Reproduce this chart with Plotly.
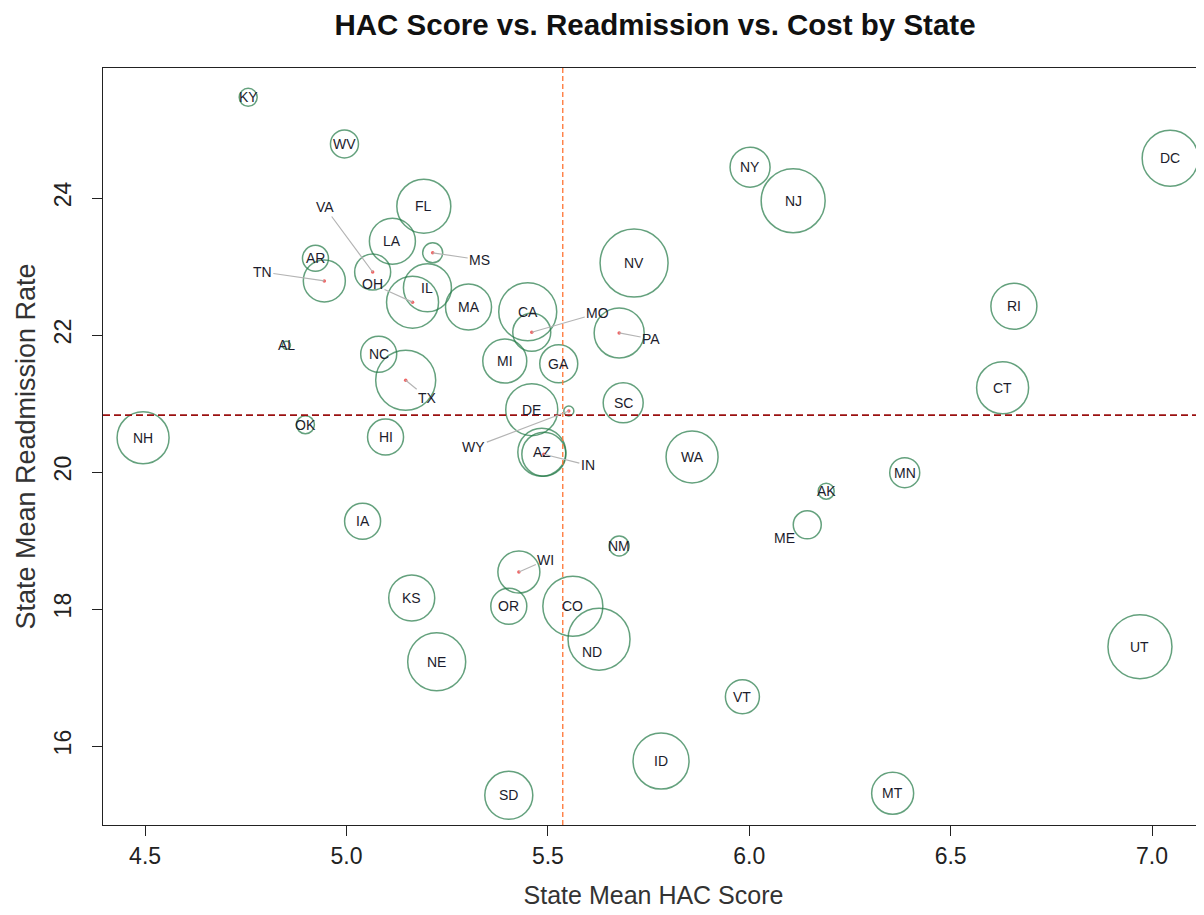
import plotly.graph_objects as go

# state means
states = ["KY", "WV", "FL", "LA", "AR", "TN", "VA", "OH", "IL", "MS",
          "MA", "AL", "NC", "TX", "NH", "OK", "HI", "WY", "IA", "KS",
          "CA", "MO", "MI", "GA", "DE", "AZ", "IN", "SC", "PA", "NV",
          "WA", "NY", "NJ", "DC", "RI", "CT", "MN", "AK", "ME", "VT",
          "MT", "UT", "NM", "WI", "OR", "CO", "ND", "NE", "SD", "ID"]
hac_score = [4.756, 4.995, 5.192, 5.114, 4.923, 4.945, 5.065, 5.164, 5.201, 5.214,
             5.303, 4.851, 5.080, 5.147, 4.495, 4.898, 5.097, 5.552, 5.040, 5.162,
             5.450, 5.460, 5.393, 5.527, 5.460, 5.485, 5.490, 5.687, 5.677, 5.714,
             5.858, 6.002, 6.109, 7.045, 6.657, 6.629, 6.386, 6.191, 6.144, 5.983,
             6.356, 6.970, 5.677, 5.428, 5.403, 5.562, 5.627, 5.224, 5.403, 5.781]
readmission = [25.47, 24.79, 23.88, 23.37, 23.12, 22.79, 22.92, 22.48, 22.69, 23.20,
               22.41, 21.85, 21.72, 21.34, 20.50, 20.69, 20.51, 20.89, 19.28, 18.16,
               22.34, 22.04, 21.62, 21.58, 20.91, 20.29, 20.26, 21.01, 22.03, 23.05,
               20.22, 24.45, 23.96, 24.58, 22.42, 21.23, 19.99, 19.72, 19.23, 16.72,
               15.31, 17.45, 18.92, 18.54, 18.04, 18.04, 17.56, 17.23, 15.28, 15.78]
# relative cost (bubble radius)
cost = [9, 14, 27, 23, 13, 21, 18, 26, 24, 10,
        23, 4, 18, 30, 26, 9, 18, 5, 18, 23,
        29, 19, 22, 19, 26, 24, 22, 20, 25, 34,
        26, 20, 32, 28, 23, 26, 15, 8, 14, 17,
        21, 32, 10, 21, 18, 30, 31, 29, 24, 28]

mean_hac = 5.537
mean_readmission = 20.83

# labels that were pushed away from their bubble (pixel offsets)
moved = {"VA": (-48, -65), "TN": (-62, -9), "OH": (-40, -18), "MS": (47, 7),
         "TX": (22, 18), "WY": (-95, 36), "IN": (44, 11), "MO": (66, -19),
         "PA": (32, 6), "WI": (27, -12)}
nudged = {"ME": (-23, -13), "ND": (-7, -13)}

fig = go.Figure()

fig.add_trace(go.Scatter(
    x=hac_score, y=readmission, mode="markers", cliponaxis=False,
    marker=dict(size=[2 * c for c in cost], sizemode="diameter",
                color="rgba(0,0,0,0)",
                line=dict(color="#237a47", width=1.5)),
    hoverinfo="text", text=states, showlegend=False))

mx = [hac_score[states.index(s)] for s in moved]
my = [readmission[states.index(s)] for s in moved]
fig.add_trace(go.Scatter(x=mx, y=my, mode="markers",
                         marker=dict(size=3.5, color="#f06464"),
                         showlegend=False, hoverinfo="skip"))

lab_font = dict(family="Liberation Sans, Arial", size=14, color="#1c1c2c")
for s, x, y in zip(states, hac_score, readmission):
    if s in moved:
        dx, dy = moved[s]
        fig.add_annotation(x=x, y=y, text=s, showarrow=True, ax=dx, ay=dy,
                           arrowhead=0, arrowwidth=1.2, arrowcolor="#b4b4b4",
                           standoff=0, font=lab_font)
    else:
        dx, dy = nudged.get(s, (0, 0))
        fig.add_annotation(x=x, y=y, text=s, showarrow=False,
                           xshift=dx, yshift=dy, font=lab_font)

fig.add_vline(x=mean_hac, line=dict(color="#ff7433", width=1.3, dash="5px,3px"))
fig.add_hline(y=mean_readmission, line=dict(color="#9a1010", width=1.6, dash="7px,4px"))

fig.update_layout(
    width=1196, height=907,
    margin=dict(l=95, r=0, t=60, b=90),
    plot_bgcolor="white", paper_bgcolor="white",
    font=dict(family="Liberation Sans, Arial", color="#222"),
    title=dict(text="<b>HAC Score vs. Readmission vs. Cost by State</b>",
               xref="container", x=0.541, xanchor="center",
               yref="container", y=0.982, yanchor="middle",
               font=dict(size=29.5, color="#111")),
)
fig.update_xaxes(range=[4.3955, 7.129], tickvals=[4.5, 5.0, 5.5, 6.0, 6.5, 7.0],
                 ticktext=["4.5", "5.0", "5.5", "6.0", "6.5", "7.0"],
                 showgrid=False, zeroline=False, showline=True, mirror=True,
                 linecolor="#222", linewidth=1.2, ticks="outside", ticklen=10,
                 tickcolor="#222", tickfont=dict(size=23, color="#222"),
                 title=dict(text="State Mean HAC Score", font=dict(size=25, color="#333"),
                            standoff=18))
fig.update_yaxes(range=[14.847, 25.898], tickvals=[16, 18, 20, 22, 24],
                 tickangle=-90, ticklabelstandoff=12,
                 showgrid=False, zeroline=False, showline=True, mirror=True,
                 linecolor="#222", linewidth=1.2, ticks="outside", ticklen=10,
                 tickcolor="#222", tickfont=dict(size=23, color="#222"),
                 title=dict(text="State Mean Readmission Rate", font=dict(size=27, color="#333"),
                            standoff=6))

fig.write_html("out.html")
